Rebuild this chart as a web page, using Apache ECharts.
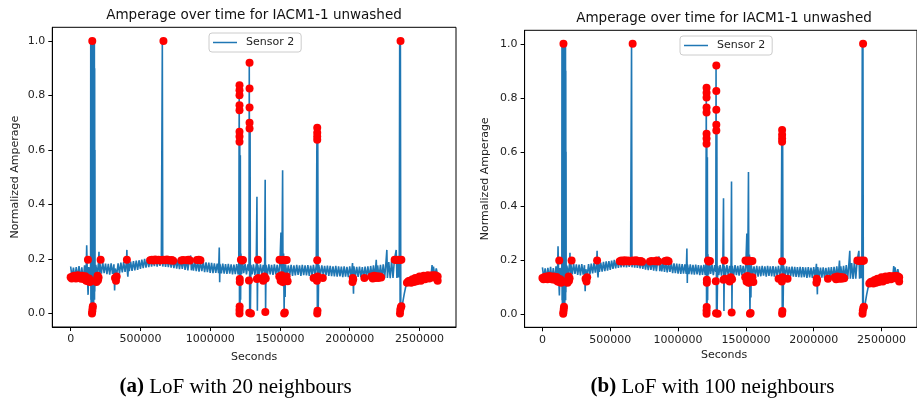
<!DOCTYPE html>
<html>
<head>
<meta charset="utf-8">
<script src="https://cdn.jsdelivr.net/npm/echarts@6/dist/echarts.min.js"></script>
<style>
html,body{margin:0;padding:0;background:#fff;}
#chart{width:917px;height:398px;}
</style>
</head>
<body>
<div id="chart"></div>
<script>
// ---------- data ----------
const chartTitle = 'Amperage over time for IACM1-1 unwashed';
const seriesName = 'Sensor 2';
const xTicks = [0, 500000, 1000000, 1500000, 2000000, 2500000];
const yTicks = [0, 0.2, 0.4, 0.6, 0.8, 1.0];
const captions = [['(a)', ' LoF with 20 neighbours'], ['(b)', ' LoF with 100 neighbours']];

// Sensor 2 signal [seconds, normalized amperage]
const sensor2 = [
[0,0.172],[10000,0.132],[20000,0.168],[30000,0.128],[40000,0.17],[50000,0.13],[60000,0.174],[70000,0.127],
[80000,0.169],[90000,0.122],[100000,0.176],[110000,0.125],[115000,0.25],[120000,0.135],[125000,0.068],[130000,0.17],
[140000,0.115],[143000,0.178],[144000,1.0],[145000,0.05],[146000,1.0],[147000,0.02],[148000,1.0],[149000,0.0],
[150000,1.0],[151000,0.03],[152000,1.0],[153000,0.0],[154000,1.0],[155000,0.02],[156000,1.0],[157000,0.01],
[158000,1.0],[159000,0.03],[160000,1.0],[161000,0.0],[162000,1.0],[163000,0.04],[164000,1.0],[165000,0.02],
[166000,1.0],[167000,0.06],[168000,1.0],[169000,0.07],[170000,1.0],[171000,0.05],[172000,0.9],[173000,0.08],
[174000,0.6],[175000,0.1],
[180000,0.178],[190000,0.145],[200000,0.186],[203000,0.226],[206000,0.145],[210000,0.184],[220000,0.146],[230000,0.186],
[240000,0.148],[250000,0.183],[260000,0.144],[270000,0.182],[280000,0.142],[290000,0.184],[300000,0.145],[310000,0.18],
[315000,0.084],[320000,0.165],[330000,0.14],[340000,0.184],[350000,0.146],[360000,0.186],[370000,0.15],[380000,0.188],
[390000,0.152],[400000,0.19],[403000,0.233],[406000,0.155],[410000,0.135],[415000,0.185],[420000,0.155],[430000,0.19],
[440000,0.156],[450000,0.192],[460000,0.158],[470000,0.194],[480000,0.16],[490000,0.195],[500000,0.163],[510000,0.197],
[520000,0.166],[530000,0.2],[540000,0.168],[550000,0.202],[560000,0.17],[570000,0.204],[580000,0.172],[590000,0.205],
[600000,0.173],[610000,0.206],[620000,0.172],[630000,0.204],[640000,0.174],[650000,0.206],[657000,1.0],[660000,0.172],
[670000,0.205],[680000,0.171],[690000,0.203],[700000,0.17],[710000,0.202],[720000,0.168],[730000,0.2],[740000,0.166],
[750000,0.198],[760000,0.164],[770000,0.197],[780000,0.162],[790000,0.197],[800000,0.163],[810000,0.198],[820000,0.16],
[830000,0.196],[840000,0.158],[850000,0.196],[860000,0.212],[865000,0.158],[870000,0.194],[880000,0.157],[890000,0.193],
[900000,0.155],[910000,0.192],[920000,0.153],[930000,0.19],[940000,0.155],[950000,0.189],[960000,0.151],[970000,0.187],
[980000,0.151],[990000,0.186],[1000000,0.149],[1010000,0.185],[1020000,0.148],[1030000,0.184],[1040000,0.149],[1050000,0.183],
[1060000,0.148],[1065000,0.242],[1068000,0.114],[1070000,0.182],[1080000,0.147],[1090000,0.183],[1100000,0.146],[1110000,0.181],
[1120000,0.145],[1130000,0.182],[1140000,0.146],[1150000,0.18],[1160000,0.143],[1170000,0.179],[1180000,0.144],[1190000,0.181],
[1200000,0.143],[1205000,0.18],[1208000,0.84],[1210000,0.0],[1212000,0.63],[1214000,0.02],[1216000,0.58],[1218000,0.05],
[1220000,0.22],[1225000,0.145],[1230000,0.205],[1240000,0.148],[1250000,0.182],[1260000,0.143],[1270000,0.18],[1278000,0.155],
[1280000,0.92],[1283000,0.0],[1286000,0.68],[1288000,0.005],[1292000,0.178],[1300000,0.143],[1310000,0.18],[1320000,0.141],
[1330000,0.178],[1335000,0.428],[1338000,0.01],[1341000,0.178],[1350000,0.143],[1360000,0.18],[1370000,0.141],[1380000,0.178],
[1390000,0.143],[1394000,0.49],[1397000,0.0],[1400000,0.178],[1410000,0.141],[1420000,0.18],[1430000,0.143],[1440000,0.178],
[1450000,0.141],[1460000,0.18],[1470000,0.143],[1480000,0.178],[1490000,0.138],[1500000,0.186],[1507000,0.297],[1510000,0.12],
[1515000,0.25],[1519000,0.525],[1522000,0.1],[1526000,0.22],[1530000,0.0],[1533000,0.18],[1537000,0.06],[1540000,0.18],
[1550000,0.143],[1560000,0.176],[1570000,0.14],[1580000,0.178],[1590000,0.138],[1600000,0.176],[1610000,0.139],[1620000,0.178],
[1630000,0.141],[1640000,0.176],[1650000,0.138],[1660000,0.178],[1670000,0.14],[1680000,0.176],[1690000,0.139],[1700000,0.177],
[1710000,0.138],[1720000,0.175],[1730000,0.14],[1740000,0.178],[1750000,0.141],[1760000,0.176],[1765000,0.68],[1768000,0.0],
[1771000,0.64],[1774000,0.01],[1778000,0.178],[1790000,0.141],[1800000,0.176],[1810000,0.14],[1820000,0.174],[1830000,0.139],
[1840000,0.175],[1850000,0.138],[1860000,0.174],[1870000,0.137],[1880000,0.173],[1890000,0.136],[1900000,0.174],[1910000,0.135],
[1920000,0.173],[1930000,0.136],[1940000,0.172],[1950000,0.133],[1960000,0.173],[1970000,0.135],[1980000,0.171],[1990000,0.133],
[2000000,0.173],[2010000,0.135],[2020000,0.185],[2027000,0.072],[2030000,0.173],[2040000,0.133],[2050000,0.171],[2060000,0.134],
[2070000,0.172],[2080000,0.133],[2090000,0.17],[2100000,0.131],[2110000,0.172],[2120000,0.133],[2130000,0.173],[2140000,0.131],
[2150000,0.174],[2160000,0.133],[2170000,0.176],[2180000,0.131],[2190000,0.197],[2195000,0.133],[2200000,0.176],[2210000,0.131],
[2220000,0.178],[2230000,0.13],[2240000,0.18],[2250000,0.129],[2260000,0.19],[2266000,0.233],[2270000,0.13],[2280000,0.188],
[2290000,0.129],[2300000,0.194],[2310000,0.13],[2320000,0.196],[2333000,0.233],[2338000,0.13],[2345000,0.196],[2350000,0.132],
[2355000,0.205],[2358000,1.0],[2361000,0.0],[2363000,1.0],[2366000,0.0],[2370000,0.01],[2380000,0.04],[2390000,0.07],
[2400000,0.095],[2410000,0.11],[2420000,0.112],[2430000,0.132],[2440000,0.11],[2450000,0.135],[2460000,0.112],[2470000,0.137],
[2480000,0.114],[2490000,0.138],[2500000,0.115],[2510000,0.14],[2520000,0.117],[2530000,0.141],[2540000,0.118],[2550000,0.142],
[2560000,0.12],[2570000,0.144],[2580000,0.122],[2590000,0.177],[2595000,0.125],[2600000,0.172],[2610000,0.135],[2620000,0.165],
[2630000,0.14]
];

// LoF anomalies (red points) – 20 neighbours
const anomaliesA = [
[0,0.133],[8000,0.128],[15000,0.136],[22000,0.13],[30000,0.138],[38000,0.128],[45000,0.134],[52000,0.14],[60000,0.13],
[68000,0.136],[75000,0.127],[82000,0.138],[90000,0.132],[98000,0.125],[105000,0.136],[112000,0.12],[118000,0.13],
[125000,0.118],[132000,0.128],[138000,0.115],[124000,0.197],[145000,0.12],
[153000,0.0],[155000,0.008],[157000,0.018],[159000,0.026],[155000,1.0],
[185000,0.115],[190000,0.128],[193000,0.138],[196000,0.122],[200000,0.132],[215000,0.197],
[318000,0.13],[325000,0.12],[330000,0.135],[403000,0.197],
[570000,0.195],[582000,0.197],[594000,0.194],[606000,0.198],[618000,0.195],[630000,0.197],[642000,0.194],[654000,0.196],
[665000,1.0],[666000,0.197],[678000,0.195],[690000,0.198],[700000,0.196],[712000,0.194],[725000,0.196],[735000,0.193],
[793000,0.194],[806000,0.196],[830000,0.195],[843000,0.197],[855000,0.194],[905000,0.196],[918000,0.197],[930000,0.195],
[1210000,0.837],[1210000,0.819],[1210000,0.801],[1210000,0.764],[1210000,0.746],[1210000,0.667],[1210000,0.649],[1210000,0.63],
[1212000,0.126],[1212000,0.115],[1210000,0.0],[1210000,0.012],[1211000,0.025],[1220000,0.197],[1228000,0.194],[1235000,0.196],
[1282000,0.92],[1282000,0.825],[1282000,0.756],[1282000,0.70],[1282000,0.679],[1278000,0.121],[1280000,0.002],[1292000,0.0],
[1342000,0.197],[1335000,0.126],[1345000,0.13],[1380000,0.12],[1388000,0.135],[1398000,0.128],[1395000,0.005],
[1497000,0.197],[1510000,0.195],[1522000,0.197],[1535000,0.195],[1548000,0.196],[1495000,0.135],[1505000,0.12],[1512000,0.14],
[1520000,0.115],[1528000,0.13],[1538000,0.12],[1548000,0.135],[1555000,0.118],[1530000,0.0],[1535000,0.003],
[1741000,0.13],[1767000,0.195],[1765000,0.12],[1770000,0.135],[1767000,0.0],[1769000,0.01],[1807000,0.13],
[1767000,0.681],[1767000,0.663],[1767000,0.649],[1767000,0.637],
[2020000,0.115],[2022000,0.13],[2025000,0.125],[2105000,0.13],
[2155000,0.135],[2165000,0.128],[2175000,0.138],[2185000,0.13],[2195000,0.136],[2205000,0.13],[2215000,0.135],[2225000,0.132],
[2322000,0.197],[2335000,0.196],[2348000,0.197],[2360000,0.196],[2370000,0.197],
[2364000,1.0],[2360000,0.0],[2362000,0.012],[2366000,0.022],[2370000,0.026],
[2410000,0.112],[2420000,0.118],[2430000,0.12],[2440000,0.112],[2450000,0.125],[2460000,0.115],[2470000,0.13],[2480000,0.118],
[2490000,0.125],[2500000,0.135],[2510000,0.12],[2520000,0.13],[2530000,0.138],[2540000,0.125],[2550000,0.135],[2560000,0.14],
[2570000,0.128],[2580000,0.136],[2590000,0.14],[2600000,0.132],[2610000,0.14],[2620000,0.138],[2630000,0.12],[2630000,0.135]
];
// LoF anomalies – 100 neighbours (visually the same set)
const anomaliesB = anomaliesA.slice();

// ---------- chart ----------
const chart = echarts.init(document.getElementById('chart'), null, {renderer: 'canvas'});
const FONT = 'DejaVu Sans';
const panels = [
  {left: 52.3, top: 27.3, width: 403.7, height: 299.7, cx: 254, titleY: 15.5, yNameX: 15, xNameY: 357, capX: 235.5, anomalies: anomaliesA},
  {left: 524.6, top: 30.3, width: 398.4, height: 297, cx: 724, titleY: 18.5, yNameX: 485, xNameY: 355.5, capX: 712.5, anomalies: anomaliesB}
];

const grid = [], xAxis = [], yAxis = [], series = [], legend = [], graphic = [];
panels.forEach((p, i) => {
  grid.push({left: p.left, top: p.top, width: p.width, height: p.height, show: true, borderColor: '#000', borderWidth: 1, backgroundColor: 'transparent'});
  xAxis.push({
    type: 'value', gridIndex: i, min: -131500, max: 2761500,
    axisLine: {show: true, onZero: false, lineStyle: {color: '#000', width: 1}},
    axisTick: {show: true, inside: false, length: 4, lineStyle: {color: '#000'}, customValues: xTicks},
    axisLabel: {show: true, margin: 7, fontFamily: FONT, fontSize: 11, color: '#222', customValues: xTicks, formatter: v => String(v)},
    splitLine: {show: false}
  });
  yAxis.push({
    type: 'value', gridIndex: i, min: -0.05, max: 1.05,
    axisLine: {show: true, onZero: false, lineStyle: {color: '#000', width: 1}},
    axisTick: {show: true, inside: false, length: 4, lineStyle: {color: '#000'}, customValues: yTicks},
    axisLabel: {show: true, margin: 7, fontFamily: FONT, fontSize: 11, color: '#222', customValues: yTicks, formatter: v => v.toFixed(1)},
    splitLine: {show: false}
  });
  series.push({
    name: seriesName, type: 'line', xAxisIndex: i, yAxisIndex: i, data: sensor2,
    showSymbol: false, symbol: 'none', sampling: null, smooth: false,
    lineStyle: {color: '#1f77b4', width: 1.6}, itemStyle: {color: '#1f77b4'}, z: 2
  });
  series.push({
    name: 'anomalies', type: 'scatter', xAxisIndex: i, yAxisIndex: i, data: p.anomalies,
    symbol: 'circle', symbolSize: 8, itemStyle: {color: '#ff0000', opacity: 1}, z: 3
  });
  legend.push({
    data: [seriesName], left: i === 0 ? 209 : 680, top: i === 0 ? 33 : 36,
    orient: 'vertical', icon: 'rect', itemWidth: 24, itemHeight: 1.5,
    padding: [4, 7, 4, 4], borderColor: '#ccc', borderWidth: 1, borderRadius: 3,
    backgroundColor: 'rgba(255,255,255,0.8)',
    textStyle: {fontFamily: FONT, fontSize: 11, color: '#222', padding: [0, 0, 0, 4]},
    selectedMode: false
  });
  graphic.push({type: 'text', x: p.cx, y: p.titleY, style: {text: chartTitle, font: '13.5px "DejaVu Sans"', fill: '#111', align: 'center', verticalAlign: 'middle'}});
  graphic.push({type: 'text', x: p.cx, y: p.xNameY, style: {text: 'Seconds', font: '11px "DejaVu Sans"', fill: '#222', align: 'center', verticalAlign: 'middle'}});
  graphic.push({type: 'text', x: p.yNameX, y: p.top + p.height / 2, rotation: Math.PI / 2,
    style: {text: 'Normalized Amperage', font: '11px "DejaVu Sans"', fill: '#222', align: 'center', verticalAlign: 'middle'}});
  graphic.push({type: 'text', x: p.capX, y: 387,
    style: {text: '{b|' + captions[i][0] + '}{r|' + captions[i][1] + '}', align: 'center', verticalAlign: 'middle',
      rich: {b: {font: 'bold 21px "Liberation Serif"', fill: '#000'}, r: {font: '21px "Liberation Serif"', fill: '#000'}}}});
});

chart.setOption({
  animation: false,
  backgroundColor: '#fff',
  grid, xAxis, yAxis, series, legend, graphic
});
</script>
</body>
</html>
